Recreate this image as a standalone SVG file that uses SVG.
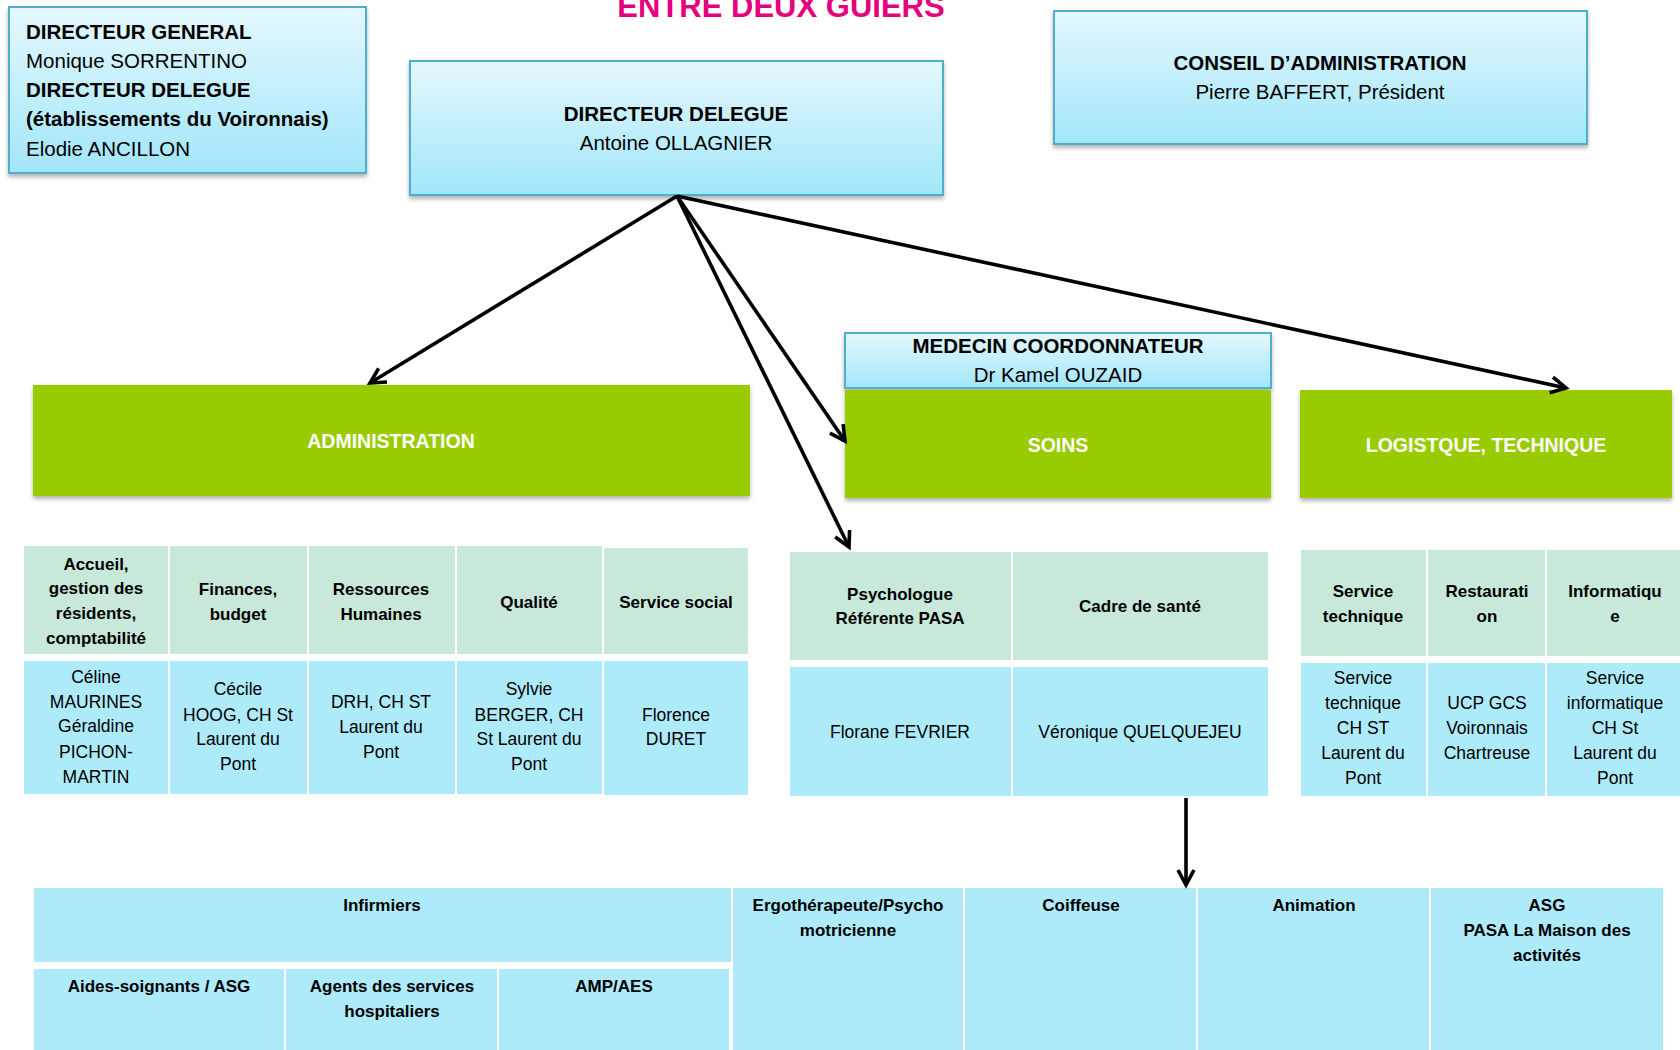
<svg xmlns="http://www.w3.org/2000/svg" width="1680" height="1050" viewBox="0 0 1680 1050">
<defs>
<linearGradient id="gBlue" x1="0" y1="0" x2="0" y2="1">
<stop offset="0" stop-color="#E4F8FE"/>
<stop offset="1" stop-color="#A2E6FA"/>
</linearGradient>
<filter id="sh" x="-5%" y="-5%" width="110%" height="125%">
<feDropShadow dx="0" dy="3" stdDeviation="2" flood-color="#000" flood-opacity="0.3"/>
</filter>
<marker id="arr" viewBox="0 0 22 22" refX="18" refY="11" markerWidth="22" markerHeight="22" markerUnits="userSpaceOnUse" orient="auto">
<path d="M3,3 L18,11 L3,19" fill="none" stroke="#000" stroke-width="3.6" stroke-linejoin="miter"/>
</marker>
<style>
text{font-family:"Liberation Sans",Arial,sans-serif;}
.top{fill:url(#gBlue);stroke:#4FAFCB;stroke-width:2;filter:url(#sh);}
.green{fill:#99CC00;filter:url(#sh);}
.hdr{fill:#C8E9DA;stroke:#fff;stroke-width:2;}
.dat{fill:#AEEBFA;stroke:#fff;stroke-width:2;}
.t21{font-size:20.5px;fill:#000;}
.b21{font-size:20.5px;font-weight:bold;fill:#000;}
.gl{font-size:19.5px;font-weight:bold;fill:#fff;text-anchor:middle;}
.h{font-size:17px;font-weight:bold;fill:#000;text-anchor:middle;}
.d{font-size:17.5px;fill:#000;text-anchor:middle;}
.c{text-anchor:middle;}
.conn{stroke:#000;stroke-width:3.6;fill:none;marker-end:url(#arr);}
</style>
</defs>
<rect width="1680" height="1050" fill="#fff"/>

<text x="781" y="17" font-size="31" font-weight="bold" fill="#E5007E" text-anchor="middle">ENTRE DEUX GUIERS</text>

<g id="directeur-general">
<rect class="top" x="9" y="7" width="357" height="166"/>
<text class="b21" x="26" y="39">DIRECTEUR GENERAL</text>
<text class="t21" x="26" y="68">Monique SORRENTINO</text>
<text class="b21" x="26" y="97">DIRECTEUR DELEGUE</text>
<text class="b21" x="26" y="126">(établissements du Voironnais)</text>
<text class="t21" x="26" y="156">Elodie ANCILLON</text>
</g>

<g id="directeur-delegue">
<rect class="top" x="410" y="61" width="533" height="134"/>
<text class="b21 c" x="676" y="121">DIRECTEUR DELEGUE</text>
<text class="t21 c" x="676" y="150">Antoine OLLAGNIER</text>
</g>

<g id="conseil-administration">
<rect class="top" x="1054" y="11" width="533" height="133"/>
<text class="b21 c" x="1320" y="70">CONSEIL D’ADMINISTRATION</text>
<text class="t21 c" x="1320" y="99">Pierre BAFFERT, Président</text>
</g>

<g id="medecin">
<rect class="top" x="845" y="333" width="426" height="55"/>
<text class="b21 c" x="1058" y="353">MEDECIN COORDONNATEUR</text>
<text class="t21 c" x="1058" y="382">Dr Kamel OUZAID</text>
</g>

<g id="administration">
<rect class="green" x="33" y="385" width="717" height="111"/>
<text class="gl" x="391" y="448">ADMINISTRATION</text>
</g>

<g id="soins">
<rect class="green" x="845" y="390" width="426" height="108"/>
<text class="gl" x="1058" y="452">SOINS</text>
</g>

<g id="logistique">
<rect class="green" x="1300" y="390" width="372" height="108"/>
<text class="gl" x="1486" y="452">LOGISTQUE, TECHNIQUE</text>
</g>

<g id="admin-table">
<rect class="hdr" x="23" y="545" width="146" height="110"/>
<rect class="hdr" x="169" y="545" width="139" height="110"/>
<rect class="hdr" x="308" y="545" width="148" height="110"/>
<rect class="hdr" x="456" y="545" width="147" height="110"/>
<rect class="hdr" x="603" y="547" width="146" height="108"/>
<rect class="dat" x="23" y="660" width="146" height="135"/>
<rect class="dat" x="169" y="660" width="139" height="135"/>
<rect class="dat" x="308" y="660" width="148" height="135"/>
<rect class="dat" x="456" y="660" width="147" height="135"/>
<rect class="dat" x="603" y="660" width="146" height="136"/>
<text class="h" x="96" y="570">Accueil,</text>
<text class="h" x="96" y="594">gestion des</text>
<text class="h" x="96" y="619">résidents,</text>
<text class="h" x="96" y="644">comptabilité</text>
<text class="h" x="238" y="595">Finances,</text>
<text class="h" x="238" y="620">budget</text>
<text class="h" x="381" y="595">Ressources</text>
<text class="h" x="381" y="620">Humaines</text>
<text class="h" x="529" y="608">Qualité</text>
<text class="h" x="676" y="608">Service social</text>
<text class="d" x="96" y="683">Céline</text>
<text class="d" x="96" y="708">MAURINES</text>
<text class="d" x="96" y="732">Géraldine</text>
<text class="d" x="96" y="758">PICHON-</text>
<text class="d" x="96" y="783">MARTIN</text>
<text class="d" x="238" y="695">Cécile</text>
<text class="d" x="238" y="721">HOOG, CH St</text>
<text class="d" x="238" y="745">Laurent du</text>
<text class="d" x="238" y="770">Pont</text>
<text class="d" x="381" y="708">DRH, CH ST</text>
<text class="d" x="381" y="733">Laurent du</text>
<text class="d" x="381" y="758">Pont</text>
<text class="d" x="529" y="695">Sylvie</text>
<text class="d" x="529" y="721">BERGER, CH</text>
<text class="d" x="529" y="745">St Laurent du</text>
<text class="d" x="529" y="770">Pont</text>
<text class="d" x="676" y="721">Florence</text>
<text class="d" x="676" y="745">DURET</text>
</g>

<g id="soins-table">
<rect class="hdr" x="789" y="551" width="223" height="110"/>
<rect class="hdr" x="1012" y="551" width="257" height="110"/>
<rect class="dat" x="789" y="666" width="223" height="131"/>
<rect class="dat" x="1012" y="666" width="257" height="131"/>
<text class="h" x="900" y="600">Psychologue</text>
<text class="h" x="900" y="624">Référente PASA</text>
<text class="h" x="1140" y="612">Cadre de santé</text>
<text class="d" x="900" y="738">Florane FEVRIER</text>
<text class="d" x="1140" y="738">Véronique QUELQUEJEU</text>
</g>

<g id="logistique-table">
<rect class="hdr" x="1300" y="549" width="127" height="108"/>
<rect class="hdr" x="1427" y="549" width="119" height="108"/>
<rect class="hdr" x="1546" y="549" width="140" height="108"/>
<rect class="dat" x="1300" y="662" width="127" height="135"/>
<rect class="dat" x="1427" y="662" width="119" height="135"/>
<rect class="dat" x="1546" y="662" width="140" height="135"/>
<text class="h" x="1363" y="597">Service</text>
<text class="h" x="1363" y="622">technique</text>
<text class="h" x="1487" y="597">Restaurati</text>
<text class="h" x="1487" y="622">on</text>
<text class="h" x="1615" y="597">Informatiqu</text>
<text class="h" x="1615" y="622">e</text>
<text class="d" x="1363" y="684">Service</text>
<text class="d" x="1363" y="709">technique</text>
<text class="d" x="1363" y="734">CH ST</text>
<text class="d" x="1363" y="759">Laurent du</text>
<text class="d" x="1363" y="784">Pont</text>
<text class="d" x="1487" y="709">UCP GCS</text>
<text class="d" x="1487" y="734">Voironnais</text>
<text class="d" x="1487" y="759">Chartreuse</text>
<text class="d" x="1615" y="684">Service</text>
<text class="d" x="1615" y="709">informatique</text>
<text class="d" x="1615" y="734">CH St</text>
<text class="d" x="1615" y="759">Laurent du</text>
<text class="d" x="1615" y="784">Pont</text>
</g>

<g id="soins-bottom">
<rect class="dat" x="33" y="887" width="699" height="76"/>
<rect class="dat" x="33" y="968" width="252" height="84"/>
<rect class="dat" x="285" y="968" width="213" height="84"/>
<rect class="dat" x="498" y="968" width="232" height="84"/>
<rect class="dat" x="732" y="887" width="232" height="165"/>
<rect class="dat" x="964" y="887" width="233" height="165"/>
<rect class="dat" x="1197" y="887" width="233" height="165"/>
<rect class="dat" x="1430" y="887" width="234" height="165"/>
<text class="h" x="382" y="911">Infirmiers</text>
<text class="h" x="159" y="992">Aides-soignants / ASG</text>
<text class="h" x="392" y="992">Agents des services</text>
<text class="h" x="392" y="1017">hospitaliers</text>
<text class="h" x="614" y="992">AMP/AES</text>
<text class="h" x="848" y="911">Ergothérapeute/Psycho</text>
<text class="h" x="848" y="936">motricienne</text>
<text class="h" x="1081" y="911">Coiffeuse</text>
<text class="h" x="1314" y="911">Animation</text>
<text class="h" x="1547" y="911">ASG</text>
<text class="h" x="1547" y="936">PASA La Maison des</text>
<text class="h" x="1547" y="961">activités</text>
</g>

<g id="connectors">
<line class="conn" x1="677" y1="196" x2="370" y2="383"/>
<line class="conn" x1="677" y1="196" x2="845" y2="441"/>
<line class="conn" x1="677" y1="196" x2="849" y2="547"/>
<line class="conn" x1="677" y1="196" x2="1566" y2="388"/>
<line class="conn" x1="1186" y1="798" x2="1186" y2="885"/>
</g>
</svg>
